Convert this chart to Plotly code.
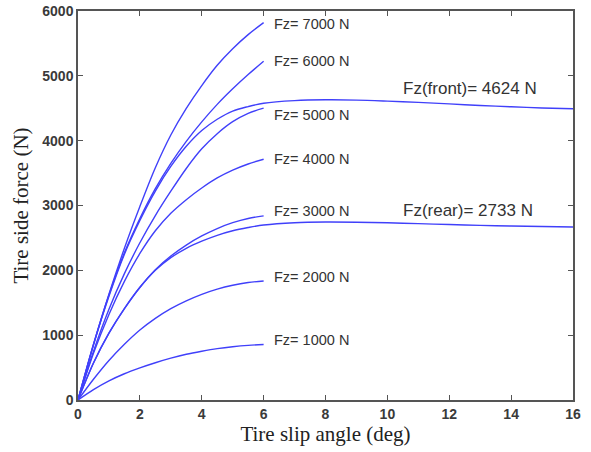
import plotly.graph_objects as go

# Slip angle samples (deg)
slip_short = [0, 0.5, 1, 1.5, 2, 2.5, 3, 3.5, 4, 4.5, 5, 5.5, 6]
slip_long = slip_short + [7, 8, 9, 10, 11, 12, 13, 14, 15, 16]

# Side force (N) for each vertical load, 0..6 deg
fy_1000 = [0, 160, 295, 405, 495, 575, 645, 705, 752, 792, 822, 843, 855]
fy_2000 = [0, 320, 610, 860, 1080, 1260, 1410, 1530, 1630, 1710, 1770, 1812, 1836]
fy_3000 = [0, 570, 1030, 1410, 1740, 2010, 2220, 2390, 2530, 2645, 2735, 2800, 2840]
fy_4000 = [0, 720, 1320, 1830, 2260, 2610, 2880, 3090, 3270, 3425, 3545, 3640, 3714]
fy_5000 = [0, 750, 1400, 1950, 2425, 2845, 3220, 3571, 3874, 4108, 4293, 4422, 4501]
fy_6000 = [0, 860, 1620, 2270, 2800, 3260, 3650, 3990, 4290, 4560, 4800, 5020, 5225]
fy_7000 = [0, 850, 1630, 2340, 2984, 3582, 4087, 4498, 4850, 5163, 5418, 5635, 5820]

# Side force (N) for the front and rear axle loads, 0..16 deg
fy_front = [0, 850, 1600, 2250, 2770, 3223, 3602, 3913, 4156, 4330, 4457, 4526, 4578,
            4618, 4630, 4626, 4610, 4590, 4567, 4543, 4522, 4505, 4492]
fy_rear = [0, 570, 1030, 1410, 1735, 2000, 2195, 2340, 2450, 2540, 2610, 2660, 2700,
           2735, 2745, 2742, 2733, 2720, 2706, 2694, 2684, 2676, 2668]

load_labels = ["Fz= 1000 N", "Fz= 2000 N", "Fz= 3000 N", "Fz= 4000 N",
               "Fz= 5000 N", "Fz= 6000 N", "Fz= 7000 N"]
load_series = [fy_1000, fy_2000, fy_3000, fy_4000, fy_5000, fy_6000, fy_7000]
label_yshift = [5, 4, 5, 0, -7, 0, -1]

axle_labels = ["Fz(front)= 4624 N", "Fz(rear)= 2733 N"]
axle_series = [fy_front, fy_rear]

x_ticks = [0, 2, 4, 6, 8, 10, 12, 14, 16]
y_ticks = [0, 1000, 2000, 3000, 4000, 5000, 6000]

LINE = dict(color="rgb(64,64,250)", width=1.4, shape="spline", smoothing=0.9)

fig = go.Figure()
for series in load_series:
    fig.add_trace(go.Scatter(x=slip_short, y=series, mode="lines", line=LINE,
                             showlegend=False, hoverinfo="skip"))
for series in axle_series:
    fig.add_trace(go.Scatter(x=slip_long, y=series, mode="lines", line=LINE,
                             showlegend=False, hoverinfo="skip"))

annotations = []
for text, series, dy in zip(load_labels, load_series, label_yshift):
    annotations.append(dict(x=slip_short[-1], y=series[-1], xref="x", yref="y",
                            text=text, showarrow=False, xanchor="left", yanchor="middle",
                            xshift=9, yshift=dy, borderpad=0,
                            font=dict(family="Liberation Sans, Arial", size=14.5, color="#333333")))
for text, series, dy in zip(axle_labels, axle_series, [13, 12]):
    annotations.append(dict(x=10.47, y=series[slip_long.index(10)], xref="x", yref="y",
                            text=text, showarrow=False, xanchor="left", yanchor="middle",
                            yshift=dy, borderpad=0,
                            font=dict(family="Liberation Sans, Arial", size=17, color="#333333")))

axis_common = dict(
    showline=True, linecolor="#555555", linewidth=1.5, mirror="ticks",
    ticks="inside", ticklen=5, tickwidth=1.2, tickcolor="#555555",
    showgrid=False, zeroline=False, automargin=False,
    tickfont=dict(family="Liberation Sans, Arial", size=14, color="#3a3a3a", weight="bold"),
)

fig.update_layout(
    width=591, height=452,
    margin=dict(l=78, r=18, t=11, b=52),
    paper_bgcolor="white", plot_bgcolor="white",
    xaxis=dict(range=[0, 16], tickvals=x_ticks,
               title=dict(text="Tire slip angle (deg)", standoff=4,
                          font=dict(family="Liberation Serif, Times New Roman", size=21, color="#222222")),
               **axis_common),
    yaxis=dict(range=[0, 6000], tickvals=y_ticks,
               title=dict(text="Tire side force (N)", standoff=8,
                          font=dict(family="Liberation Serif, Times New Roman", size=21, color="#222222")),
               **axis_common),
    annotations=annotations,
)

fig.write_html("out.html")
